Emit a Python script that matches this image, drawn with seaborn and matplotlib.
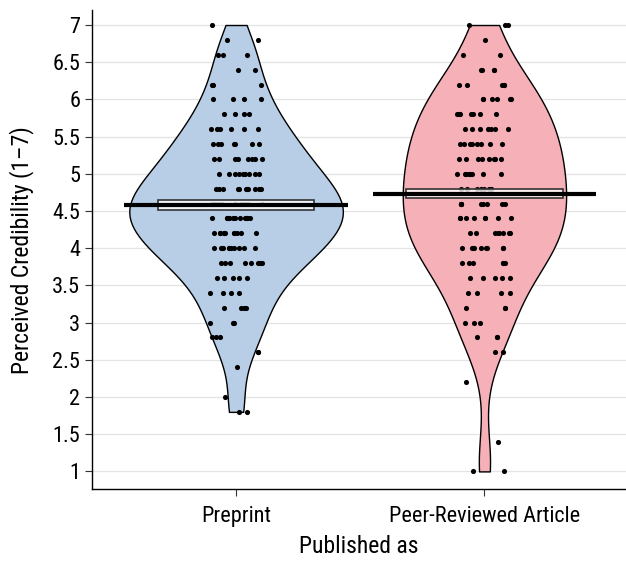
import numpy as np
import pandas as pd
import seaborn as sns
import matplotlib.pyplot as plt
from matplotlib.patches import Rectangle

groups = ["Preprint", "Peer-Reviewed Article"]
levels = [1.0, 1.2, 1.4, 1.6, 1.8, 2.0, 2.2, 2.4, 2.6, 2.8, 3.0, 3.2, 3.4, 3.6, 3.8,
          4.0, 4.2, 4.4, 4.6, 4.8, 5.0, 5.2, 5.4, 5.6, 5.8, 6.0, 6.2, 6.4, 6.6, 6.8, 7.0]
preprint_counts = [0, 0, 0, 0, 2, 1, 0, 1, 2, 3, 3, 4, 4, 5, 8,
                   10, 11, 13, 13, 11, 9, 8, 7, 6, 4, 4, 3, 2, 3, 2, 1]
peer_counts = [2, 0, 1, 0, 0, 0, 1, 0, 2, 3, 3, 3, 4, 5, 6,
               8, 8, 8, 9, 8, 8, 8, 8, 7, 7, 6, 5, 4, 2, 1, 3]
means = [4.58, 4.73]
ci_low = [4.52, 4.67]
ci_high = [4.65, 4.80]
yticks = [1, 1.5, 2, 2.5, 3, 3.5, 4, 4.5, 5, 5.5, 6, 6.5, 7]
ytick_labels = ["1", "1.5", "2", "2.5", "3", "3.5", "4", "4.5", "5", "5.5", "6", "6.5", "7"]
colors = ["#b8cde6", "#f6b0b7"]

df = pd.DataFrame({
    "group": [groups[0]] * sum(preprint_counts) + [groups[1]] * sum(peer_counts),
    "score": np.concatenate([np.repeat(levels, preprint_counts), np.repeat(levels, peer_counts)]),
})

sns.set_style("white")
plt.rcParams["font.family"] = ["Roboto Condensed", "DejaVu Sans"]
np.random.seed(3)

fig = plt.figure(figsize=(6.26, 5.63), dpi=100)
ax = fig.add_axes([0.147, 0.131, 0.853, 0.851])

sns.violinplot(data=df, x="group", y="score", hue="group", palette=colors, order=groups,
               cut=0, inner=None, density_norm="area", common_norm=True, width=0.86,
               bw_adjust=0.85, linewidth=1, linecolor="black", saturation=1, legend=False, ax=ax)
sns.stripplot(data=df, x="group", y="score", order=groups, color="black", size=3.7,
              jitter=0.11, ax=ax, zorder=3)

for i in range(len(groups)):
    ax.add_patch(Rectangle((i - 0.315, ci_low[i]), 0.63, ci_high[i] - ci_low[i],
                           facecolor=(1, 1, 1, 0.8), edgecolor="#333333", lw=1.2, zorder=4))
    ax.plot([i - 0.45, i + 0.45], [means[i], means[i]], color="black", lw=3, zorder=5,
            solid_capstyle="butt")

ax.set_xlim(-0.58, 1.57)
ax.set_ylim(0.76, 7.2)
ax.set_yticks(yticks)
ax.set_yticklabels(ytick_labels)
ax.yaxis.grid(True, color="#e3e3e3", lw=0.9)
ax.set_axisbelow(True)
for s in ["top", "right"]:
    ax.spines[s].set_visible(False)
for s in ["left", "bottom"]:
    ax.spines[s].set_color("black")
    ax.spines[s].set_linewidth(1)
ax.tick_params(axis="both", direction="out", length=5, width=0.8, color="#333333",
               labelsize=16, labelcolor="black", left=True, bottom=True)
ax.tick_params(axis="x", pad=7)
ax.set_xlabel("Published as", fontsize=17, color="black", labelpad=6)
ax.set_ylabel("Perceived Credibility (1\u20137)", fontsize=17, color="black", labelpad=13)

fig.savefig("out.png", dpi=100)
